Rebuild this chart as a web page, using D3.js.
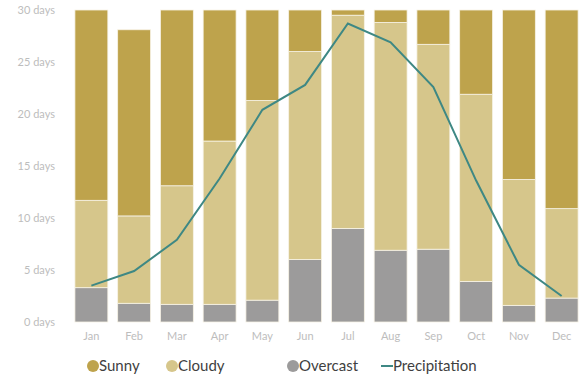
<!DOCTYPE html>
<html>
<head>
<meta charset="utf-8">
<script src="https://cdn.jsdelivr.net/npm/d3@7"></script>
<style>
  html, body { margin: 0; padding: 0; background: #fff; }
  svg { display: block; }
</style>
</head>
<body>
<svg id="chart" width="585" height="378"></svg>
<script>
// Monthly weather: days per state (stacked) and precipitation line
const months = ["Jan","Feb","Mar","Apr","May","Jun","Jul","Aug","Sep","Oct","Nov","Dec"];
const overcast = [3.3, 1.8, 1.7, 1.7, 2.1, 6.0, 9.0, 6.9, 7.0, 3.9, 1.6, 2.3];
const cloudy   = [8.4, 8.4, 11.4, 15.7, 19.2, 20.0, 20.5, 21.9, 19.7, 18.0, 12.1, 8.6];
const sunny    = [18.3, 17.9, 16.9, 12.6, 8.7, 4.0, 0.5, 1.2, 3.3, 8.1, 16.3, 19.1];
const precipitation = [3.5, 4.9, 7.9, 13.8, 20.4, 22.8, 28.7, 26.9, 22.6, 13.6, 5.5, 2.5];
const yTicks = [0, 5, 10, 15, 20, 25, 30];

const seriesKeys = ["overcast", "cloudy", "sunny"];
const colors = { sunny: "#bea34c", cloudy: "#d6c68b", overcast: "#9c9b9b" };
const lineColor = "#3e8884";

const rows = months.map((m, i) => ({
  month: m, overcast: overcast[i], cloudy: cloudy[i], sunny: sunny[i]
}));

const svg = d3.select("#chart");
const font = "Lato, 'Open Sans', sans-serif";

const x = d3.scaleBand().domain(months).range([70, 583])
  .paddingInner(0.23).paddingOuter(0.115);
const y = d3.scaleLinear().domain([0, 30]).range([322, 10]);

const stack = d3.stack().keys(seriesKeys)(rows);

svg.append("g").selectAll("g")
  .data(stack)
  .join("g")
  .attr("fill", d => colors[d.key])
  .selectAll("rect")
  .data(d => d)
  .join("rect")
  .attr("x", d => x(d.data.month))
  .attr("y", d => y(d[1]))
  .attr("width", x.bandwidth())
  .attr("height", d => y(d[0]) - y(d[1]))
  .attr("stroke", "#f7f3e6")
  .attr("stroke-width", 0.8);

// Y axis labels
const yAxis = d3.axisLeft(y).tickValues(yTicks).tickSize(0).tickPadding(0)
  .tickFormat(d => d + " days");
svg.append("g")
  .attr("transform", "translate(55,0)")
  .call(yAxis)
  .call(g => g.select(".domain").remove())
  .call(g => g.selectAll("text")
    .attr("fill", "#bdbdbd")
    .style("font-family", font)
    .style("font-size", "11px"));

// X axis labels
const xAxis = d3.axisBottom(x).tickSize(0).tickPadding(0);
svg.append("g")
  .attr("transform", "translate(0,332)")
  .call(xAxis)
  .call(g => g.select(".domain").remove())
  .call(g => g.selectAll("text")
    .attr("fill", "#bdbdbd")
    .style("font-family", font)
    .style("font-size", "11px"));

// Precipitation line
const line = d3.line()
  .x((d, i) => x(months[i]) + x.bandwidth() / 2)
  .y(d => y(d));
svg.append("path")
  .datum(precipitation)
  .attr("d", line)
  .attr("fill", "none")
  .attr("stroke", lineColor)
  .attr("stroke-width", 2);

// Legend
const legend = svg.append("g").style("font-family", font).style("font-size", "15px");
const items = [
  { label: "Sunny", type: "dot", color: colors.sunny, x: 93 },
  { label: "Cloudy", type: "dot", color: colors.cloudy, x: 172 },
  { label: "Overcast", type: "dot", color: colors.overcast, x: 293 },
  { label: "Precipitation", type: "line", color: lineColor, x: 381 }
];
const ly = 366;
items.forEach(it => {
  if (it.type === "dot") {
    legend.append("circle").attr("cx", it.x).attr("cy", ly).attr("r", 6).attr("fill", it.color);
    legend.append("text").attr("x", it.x + 6).attr("y", ly).attr("dy", "0.35em")
      .attr("fill", "#3f3f3f").text(it.label);
  } else {
    legend.append("line").attr("x1", it.x).attr("x2", it.x + 12)
      .attr("y1", ly).attr("y2", ly).attr("stroke", it.color).attr("stroke-width", 2);
    legend.append("text").attr("x", it.x + 12).attr("y", ly).attr("dy", "0.35em")
      .attr("fill", "#3f3f3f").text(it.label);
  }
});
</script>
</body>
</html>
